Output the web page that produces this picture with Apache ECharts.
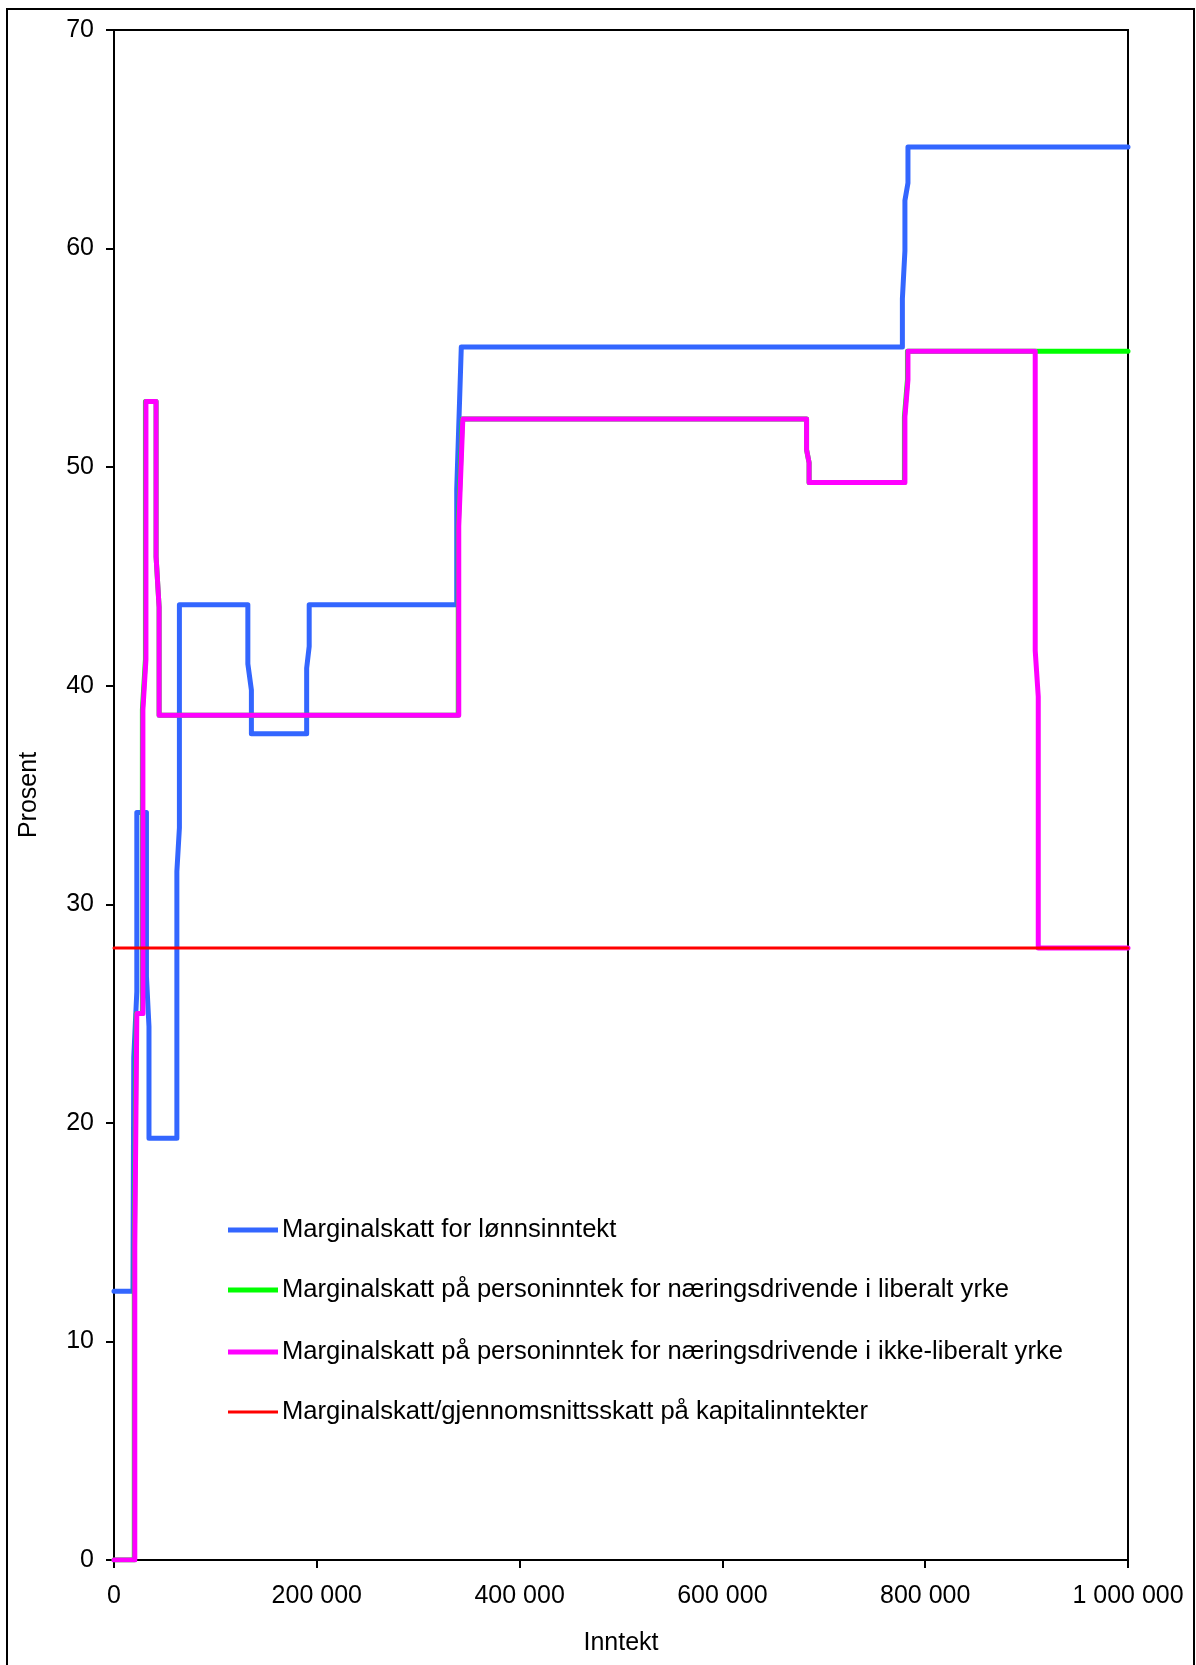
<!DOCTYPE html>
<html>
<head>
<meta charset="utf-8">
<script src="https://cdn.jsdelivr.net/npm/echarts@6/dist/echarts.min.js"></script>
<style>
  html, body { margin: 0; padding: 0; background: #fff; }
  #chart { width: 1196px; height: 1665px; }
</style>
</head>
<body>
<div id="chart"></div>
<script>
// Series names
const seriesNames = [
  'Marginalskatt for lønnsinntekt',
  'Marginalskatt på personinntek for næringsdrivende i liberalt yrke',
  'Marginalskatt på personinntek for næringsdrivende i ikke-liberalt yrke',
  'Marginalskatt/gjennomsnittsskatt på kapitalinntekter'
];

// Blue: marginal tax on wage income [income, percent]
const lonnIncome = [0, 18700, 19500, 22500, 22500, 32000, 32000, 34500, 34500, 62000, 62000, 64500, 64500, 132000, 132000, 135500, 135500, 190000, 190000, 192500, 192500, 338000, 338000, 342500, 777500, 777500, 780000, 780000, 783000, 783000, 1000000];
const lonnValue  = [12.3, 12.3, 23.0, 26.0, 34.2, 34.2, 26.7, 24.4, 19.3, 19.3, 31.5, 33.5, 43.7, 43.7, 41.0, 39.8, 37.8, 37.8, 40.8, 41.8, 43.7, 43.7, 49.0, 55.5, 55.5, 57.7, 59.9, 62.2, 63.0, 64.65, 64.65];

// Green: self-employed, liberal profession
const liberalIncome = [0, 20000, 20000, 22000, 28000, 28000, 31000, 31000, 41500, 41500, 44500, 44500, 339500, 339500, 343500, 683000, 683000, 685500, 685500, 779500, 779500, 782500, 782500, 1000000];
const liberalValue  = [0, 0, 14.0, 25.0, 25.0, 38.9, 41.2, 53.0, 53.0, 45.9, 43.6, 38.65, 38.65, 47.3, 52.2, 52.2, 50.8, 50.2, 49.3, 49.3, 52.3, 54.0, 55.3, 55.3];

// Magenta: self-employed, non-liberal profession
const ikkeLibIncome = [0, 20500, 20500, 22500, 28500, 28500, 31500, 31500, 41500, 41500, 44500, 44500, 340000, 340000, 344000, 683000, 683000, 685500, 685500, 780000, 780000, 783000, 783000, 908500, 908500, 911500, 911500, 1000000];
const ikkeLibValue  = [0, 0, 14.3, 25.0, 25.0, 38.9, 41.2, 53.0, 53.0, 45.9, 43.6, 38.65, 38.65, 47.3, 52.2, 52.2, 50.8, 50.2, 49.3, 49.3, 52.3, 54.0, 55.3, 55.3, 41.6, 39.5, 28.0, 28.0];

// Red: capital income tax
const kapitalIncome = [0, 1000000];
const kapitalValue  = [28, 28];

// Axis ticks
const xTicks = [0, 200000, 400000, 600000, 800000, 1000000];
const yTicks = [0, 10, 20, 30, 40, 50, 60, 70];

const colors = ['#3366FF', '#00FF00', '#FF00FF', '#FF0000'];
const widths = [5, 5, 5, 3];

function zip(xs, ys) { return xs.map((x, i) => [x, ys[i]]); }
function fmt(v) { return String(v).replace(/\B(?=(\d{3})+(?!\d))/g, ' '); }

const FONT = 'Liberation Sans';
const chart = echarts.init(document.getElementById('chart'), null, { renderer: 'canvas' });

const dataSets = [
  zip(lonnIncome, lonnValue),
  zip(liberalIncome, liberalValue),
  zip(ikkeLibIncome, ikkeLibValue),
  zip(kapitalIncome, kapitalValue)
];

const legendTops = [1212, 1272, 1334, 1394];

const option = {
  animation: false,
  backgroundColor: '#fff',
  textStyle: { fontFamily: FONT },
  graphic: [{
    type: 'rect',
    shape: { x: 7, y: 9, width: 1187, height: 1700 },
    style: { fill: 'none', stroke: '#000', lineWidth: 2 },
    silent: true
  }],
  grid: {
    left: 114, top: 30, width: 1014, height: 1530,
    show: true, borderColor: '#000', borderWidth: 2, backgroundColor: '#fff'
  },
  legend: seriesNames.map((n, i) => ({
    data: [n],
    left: 223,
    top: legendTops[i],
    orient: 'vertical',
    icon: 'rect',
    itemWidth: 50,
    itemHeight: widths[i],
    itemGap: 0,
    itemStyle: { color: colors[i] },
    textStyle: { fontSize: 25.6, color: '#000', fontFamily: FONT, padding: [0, 0, 0, -1] },
    selectedMode: false
  })),
  xAxis: {
    type: 'value',
    min: xTicks[0], max: xTicks[xTicks.length - 1], interval: 200000,
    name: 'Inntekt', nameLocation: 'middle', nameGap: 71,
    nameTextStyle: { fontSize: 25, color: '#000', fontFamily: FONT },
    axisLine: { show: true, lineStyle: { color: '#000', width: 2 } },
    axisTick: { show: true, length: 8, lineStyle: { color: '#000', width: 2 } },
    axisLabel: { fontSize: 25, color: '#000', margin: 24, formatter: v => fmt(v), fontFamily: FONT },
    splitLine: { show: false }
  },
  yAxis: {
    type: 'value',
    min: yTicks[0], max: yTicks[yTicks.length - 1], interval: 10,
    name: 'Prosent', nameLocation: 'middle', nameGap: 72, nameRotate: 90,
    nameTextStyle: { fontSize: 25, color: '#000', fontFamily: FONT },
    axisLine: { show: true, lineStyle: { color: '#000', width: 2 } },
    axisTick: { show: true, length: 8, lineStyle: { color: '#000', width: 2 } },
    axisLabel: { fontSize: 25, color: '#000', margin: 20, fontFamily: FONT },
    splitLine: { show: false }
  },
  series: seriesNames.map((n, i) => ({
    name: n,
    type: 'line',
    data: dataSets[i],
    showSymbol: false,
    symbol: 'none',
    color: colors[i],
    lineStyle: { color: colors[i], width: widths[i], join: 'round', cap: 'round' },
    z: 2 + i
  }))
};

chart.setOption(option);
</script>
</body>
</html>
